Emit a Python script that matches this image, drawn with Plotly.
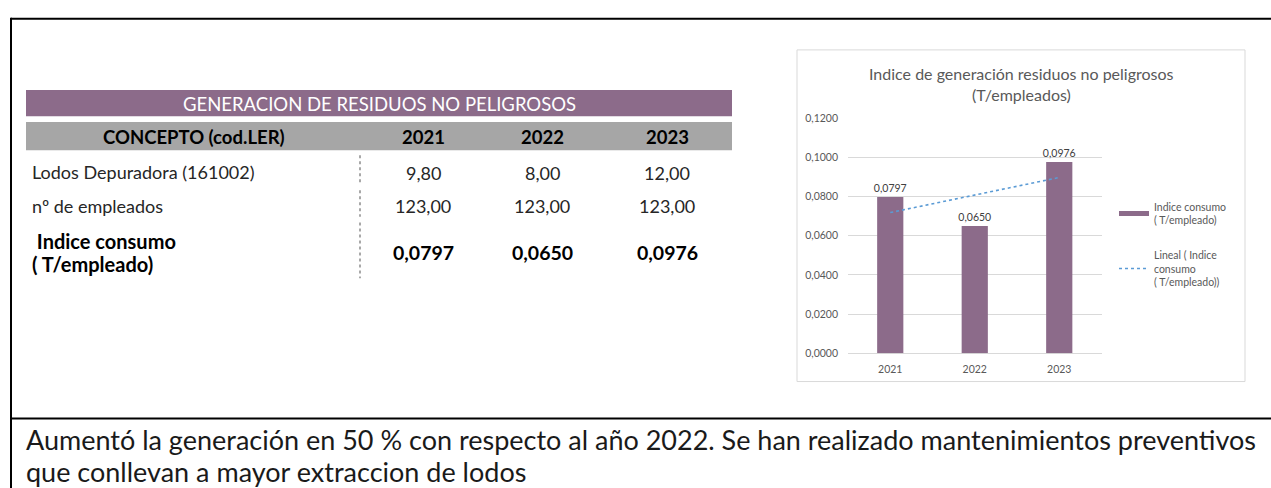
import numpy as np
import plotly.graph_objects as go

# ---------------- data ----------------
years = ["2021", "2022", "2023"]
lodos = [9.80, 8.00, 12.00]
empleados = [123.00, 123.00, 123.00]
indice = [0.0797, 0.0650, 0.0976]
y_ticks = [0.0, 0.02, 0.04, 0.06, 0.08, 0.10, 0.12]

table_title = "GENERACION DE RESIDUOS NO PELIGROSOS"
header_label = "CONCEPTO (cod.LER)"
row_labels = ["Lodos Depuradora (161002)", "nº de empleados"]
indice_label = [" Indice consumo", "( T/empleado)"]
chart_title = ["Indice de generación residuos no peligrosos", "(T/empleados)"]
bar_name = "Indice consumo<br>( T/empleado)"
trend_name = "Lineal ( Indice<br>consumo<br>( T/empleado))"
note_lines = ["Aumentó la generación en 50 % con respecto al año 2022. Se han realizado mantenimientos preventivos",
              "que conllevan a mayor extraccion de lodos"]

# linear trendline (Excel "Lineal")
xs = np.arange(1, len(indice) + 1)
coef = np.polyfit(xs, indice, 1)
trend = np.polyval(coef, xs)

# ---------------- layout helpers ----------------
OX, OY = 0, 0
W, H = 1271, 488
def fx(x):
    return (x - OX) / W
def fy(y):
    return 1 - (y - OY) / H

FONT = "Lato, 'Open Sans', sans-serif"
PURPLE = "#8C6B8A"
GRAY_HDR = "#A6A6A6"
TXT = "#262626"
AX = "#595959"

def fmt(v, d):
    return f"{v:.{d}f}".replace(".", ",")

fig = go.Figure()
fig.add_trace(go.Bar(
    x=years, y=indice, name=bar_name, legendgroup="a", showlegend=False,
    marker=dict(color=PURPLE, line=dict(width=0)), width=0.31,
    texttemplate="%{y:.4f}", textposition="outside", cliponaxis=False, constraintext="none",
    textfont=dict(family=FONT, size=10.5, color="#404040"),
))
# legend entry drawn as a wide flat swatch, like Excel's
fig.add_trace(go.Scatter(
    x=[None], y=[None], name=bar_name, legendgroup="a", mode="lines",
    line=dict(color=PURPLE, width=5),
))
fig.add_trace(go.Scatter(
    x=years, y=trend, name=trend_name, legendgroup="b", mode="lines",
    line=dict(color="#5B9BD5", width=1.6, dash="dot"),
))

shapes = []
ann = []

# outer borders
shapes.append(dict(type="line", xref="paper", yref="paper", x0=fx(11), x1=fx(1275), y0=fy(13), y1=fy(13),
                   line=dict(color="black", width=2)))
shapes.append(dict(type="line", xref="paper", yref="paper", x0=fx(11), x1=fx(11), y0=fy(12), y1=fy(495),
                   line=dict(color="black", width=2)))
shapes.append(dict(type="line", xref="paper", yref="paper", x0=fx(11), x1=fx(1275), y0=fy(423), y1=fy(423),
                   line=dict(color="black", width=2)))
# chart box
shapes.append(dict(type="rect", xref="paper", yref="paper", x0=fx(797), x1=fx(1245), y0=fy(385), y1=fy(45),
                   line=dict(color="#D9D9D9", width=1), fillcolor="rgba(0,0,0,0)"))
# table bars
shapes.append(dict(type="rect", xref="paper", yref="paper", x0=fx(26), x1=fx(732), y0=fy(113), y1=fy(86),
                   line=dict(width=0), fillcolor=PURPLE, layer="below"))
shapes.append(dict(type="rect", xref="paper", yref="paper", x0=fx(26), x1=fx(732), y0=fy(148), y1=fy(119),
                   line=dict(width=0), fillcolor=GRAY_HDR, layer="below"))
# dotted separators
for y0, y1 in [(153, 183), (189, 216), (222, 279)]:
    shapes.append(dict(type="line", xref="paper", yref="paper", x0=fx(360), x1=fx(360), y0=fy(y0), y1=fy(y1),
                       line=dict(color="#8C8C8C", width=1.5, dash="dot")))

def text(x, y, s, size, color=TXT, xanchor="center", bold=False, yanchor="middle"):
    ann.append(dict(xref="paper", yref="paper", x=fx(x), y=fy(y), text=(f"<b>{s}</b>" if bold else s),
                    showarrow=False, xanchor=xanchor, yanchor=yanchor,
                    font=dict(family=FONT, size=size, color=color), align="left"))

col_x = [423, 542, 667]
text(379, 100, table_title, 18.5, color="#FFFFFF")
text(194, 134, header_label, 18.5, color="#000000", bold=True)
for cx, yr in zip(col_x, years):
    text(cx, 134, yr, 18.5, color="#000000", bold=True)

text(30, 170, row_labels[0], 18, xanchor="left")
text(30, 205, row_labels[1], 18, xanchor="left")
text(30, 241, indice_label[0], 20, xanchor="left", bold=True, color="#000000")
text(30, 265, indice_label[1], 20, xanchor="left", bold=True, color="#000000")
for cx, a, b, c in zip(col_x, lodos, empleados, indice):
    text(cx, 171, fmt(a, 2), 18)
    text(cx, 205, fmt(b, 2), 18)
    text(cx, 253, fmt(c, 4), 19.5, bold=True, color="#000000")

# chart title
text(1021, 69, chart_title[0], 16, color=AX)
text(1021, 91, chart_title[1], 16, color=AX)

# bottom note
text(24, 444, note_lines[0], 27, color="#1a1a1a", xanchor="left")
text(24, 477, note_lines[1], 27, color="#1a1a1a", xanchor="left")

fig.update_layout(
    width=W, height=H, margin=dict(l=0, r=0, t=0, b=0),
    paper_bgcolor="white", plot_bgcolor="white",
    separators=",.",
    shapes=shapes, annotations=ann,
    showlegend=True,
    legend=dict(x=fx(1114), y=fy(192), xanchor="left", yanchor="top",
                font=dict(family=FONT, size=10.5, color=AX), tracegroupgap=18,
                itemwidth=30, bgcolor="rgba(0,0,0,0)"),
    bargap=0.69,
    xaxis=dict(domain=[fx(848), fx(1101.5)], type="category", range=[-0.5, 2.5],
               showgrid=False, showline=False, ticks="",
               tickfont=dict(family=FONT, size=10.5, color=AX), ticklabelstandoff=8),
    yaxis=dict(domain=[fy(356), fy(115)], range=[0, 0.12], tickvals=y_ticks, tickformat=".4f",
               showgrid=True, gridcolor="#D9D9D9", gridwidth=1, zeroline=True, zerolinecolor="#D9D9D9",
               zerolinewidth=1, showline=False, ticks="",
               tickfont=dict(family=FONT, size=10.5, color=AX), ticklabelstandoff=9),
)

# remove the default page margin so the figure fills the window exactly; hide the modebar
fig.write_html("out.html", config={"displayModeBar": False},
               post_script="document.body.style.margin='0';document.body.style.overflow='hidden';")
